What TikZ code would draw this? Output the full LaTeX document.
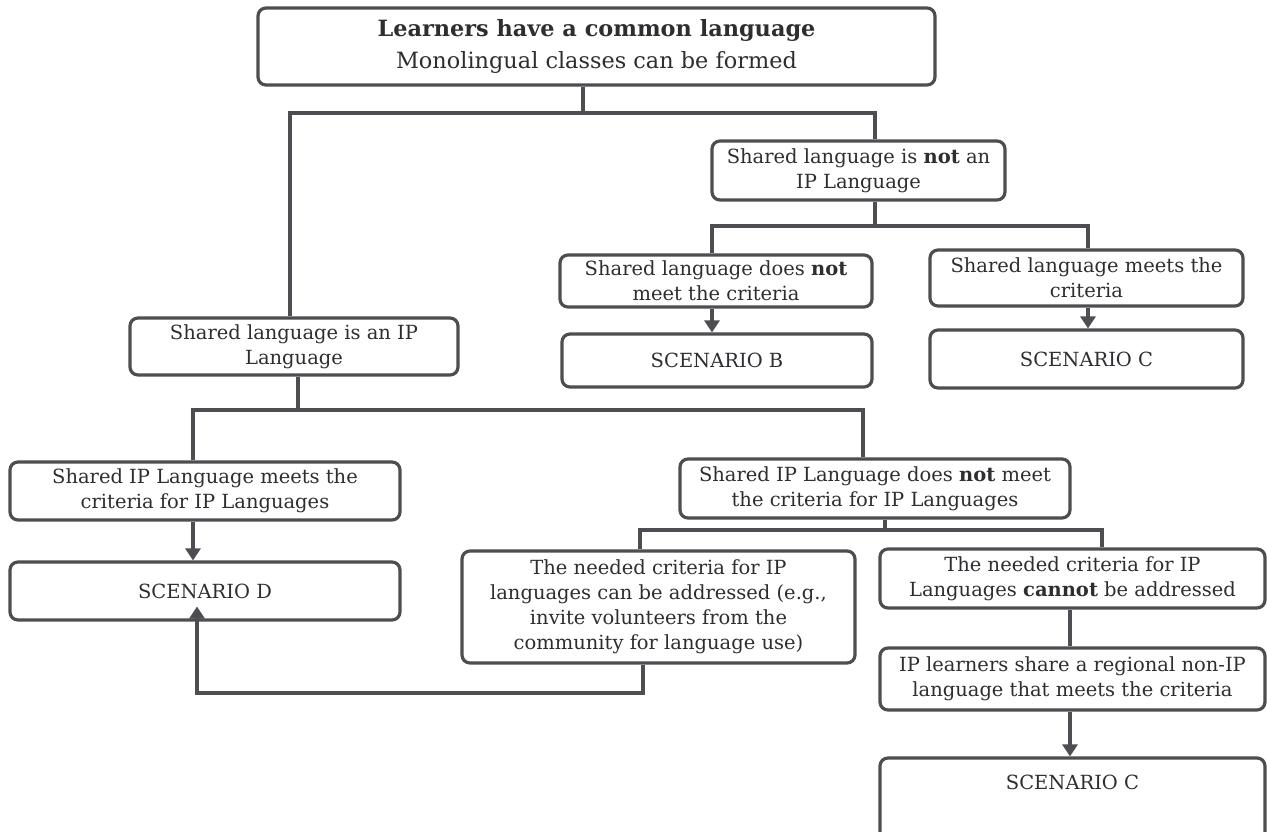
\documentclass[tikz,border=0pt]{standalone}
\usepackage{fontspec}
\setmainfont{DejaVu Serif}
\usetikzlibrary{arrows.meta}
\definecolor{lc}{HTML}{4E4E52}
\definecolor{tc}{HTML}{2E2E32}
\tikzset{
  box/.style={draw=lc, line width=3.2pt, rounded corners=8pt, align=center, inner sep=0pt,
    text=tc, font=\fontsize{19.5}{25}\selectfont},
  ln/.style={draw=lc, line width=3.4pt},
  arr/.style={ln, -{Triangle[width=15pt,length=12pt]}},
}
\begin{document}
\begin{tikzpicture}[x=1pt,y=-1pt]
\fill[white] (0,0) rectangle (1267,832);
\useasboundingbox (0,0) rectangle (1267,832);
\clip (0,0) rectangle (1267,832);
% nodes
\node[box, minimum width=677pt, minimum height=77pt, font=\fontsize{22.4}{32}\selectfont] (top) at (596.5,46.5)
  {\textbf{Learners have a common language}\\Monolingual classes can be formed};
\node[box, minimum width=293pt, minimum height=59pt] (notIP) at (858.5,170.5)
  {Shared language is \textbf{not} an\\IP Language};
\node[box, minimum width=312pt, minimum height=52pt] (dnm) at (716,281)
  {Shared language does \textbf{not}\\meet the criteria};
\node[box, minimum width=310pt, minimum height=53pt] (scB) at (717,360.5) {SCENARIO B};
\node[box, minimum width=313pt, minimum height=56pt] (meets) at (1086.5,278)
  {Shared language meets the\\criteria};
\node[box, minimum width=313pt, minimum height=58pt] (scCa) at (1086.5,359) {SCENARIO C};
\node[box, minimum width=328pt, minimum height=57pt] (isIP) at (294,346.5)
  {Shared language is an IP\\Language};
\node[box, minimum width=390pt, minimum height=58pt] (ipMeets) at (205,491)
  {Shared IP Language meets the\\criteria for IP Languages};
\node[box, minimum width=390pt, minimum height=58pt] (scD) at (205,591) {SCENARIO D};
\node[box, minimum width=390pt, minimum height=59pt] (ipNot) at (875,488.5)
  {Shared IP Language does \textbf{not} meet\\the criteria for IP Languages};
\node[box, minimum width=393pt, minimum height=112pt] (addr) at (658.5,607)
  {The needed criteria for IP\\languages can be addressed (e.g.,\\invite volunteers from the\\community for language use)};
\node[box, minimum width=385pt, minimum height=59pt] (cannot) at (1072.5,578.5)
  {The needed criteria for IP\\Languages \textbf{cannot} be addressed};
\node[box, minimum width=385pt, minimum height=62pt] (regional) at (1072.5,679)
  {IP learners share a regional non-IP\\language that meets the criteria};
\node[box, minimum width=385pt, minimum height=102pt,
  label={[anchor=north, yshift=-15pt, text=tc, font=\fontsize{19.5}{25}\selectfont]north:SCENARIO C}] (scCb) at (1072.5,809) {};
% junction coordinates
\coordinate (j1) at (583,113);
\coordinate (j2) at (875,226);
\coordinate (j3) at (298,410);
\coordinate (j4) at (885,530);
\coordinate (fb) at (643,693);
% connectors
\draw[ln] (top.south -| j1) -- (j1);
\draw[ln] ([xshift=-4pt]isIP.north) |- (j1) -| ([xshift=16.5pt]notIP.north);
\draw[ln] (notIP.south -| j2) -- (j2);
\draw[ln] ([xshift=-4pt]dnm.north) |- (j2) -| ([xshift=1.5pt]meets.north);
\draw[arr] ([xshift=-4pt]dnm.south) -- ([xshift=-4pt]dnm.south |- scB.north);
\draw[arr] ([xshift=1.5pt]meets.south) -- ([xshift=1.5pt]meets.south |- scCa.north);
\draw[ln] (isIP.south -| j3) -- (j3);
\draw[ln] ([xshift=-12pt]ipMeets.north) |- (j3) -| ([xshift=-12pt]ipNot.north);
\draw[arr] ([xshift=-12pt]ipMeets.south) -- ([xshift=-12pt]ipMeets.south |- scD.north);
\draw[ln] (ipNot.south -| j4) -- (j4);
\draw[ln] ([xshift=-18.5pt]addr.north) |- (j4) -| ([xshift=29.5pt]cannot.north);
\draw[ln] ([xshift=-2.5pt]cannot.south) -- ([xshift=-2.5pt]cannot.south |- regional.north);
\draw[arr] ([xshift=-2.5pt]regional.south) -- ([xshift=-2.5pt]regional.south |- scCb.north);
\draw[arr] (addr.south -| fb) |- ([xshift=-8pt]scD.south |- fb) -- ([xshift=-8pt,yshift=15pt]scD.south);
\end{tikzpicture}
\end{document}
